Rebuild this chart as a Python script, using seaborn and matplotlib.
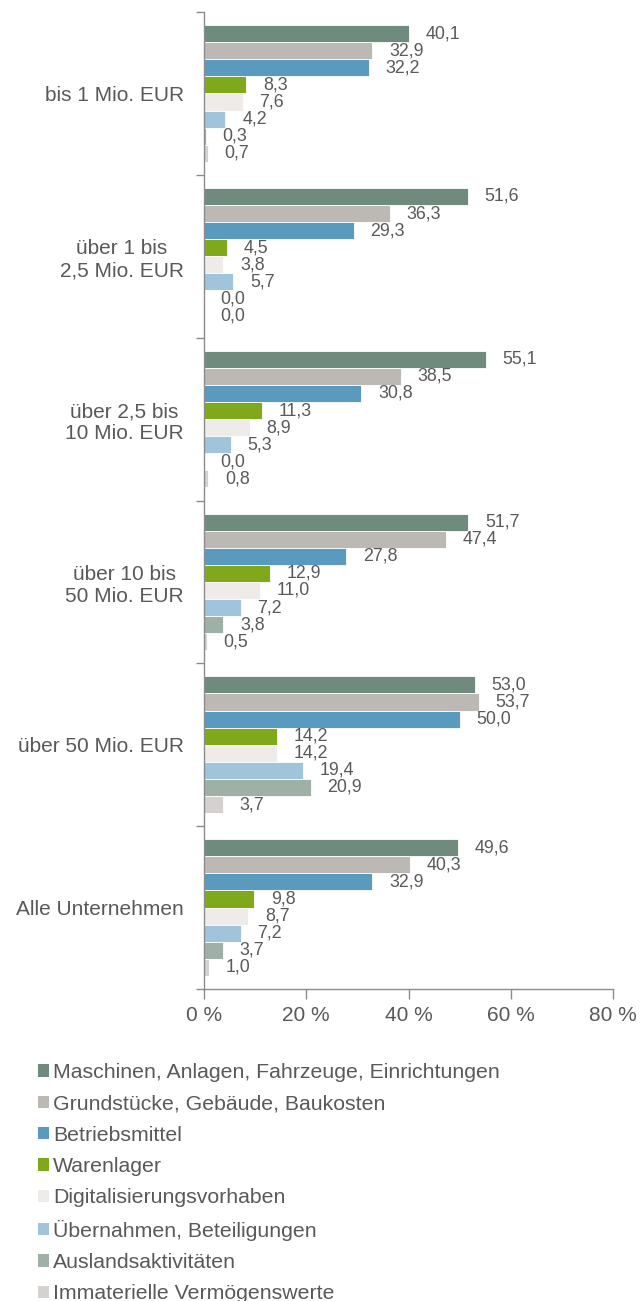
import matplotlib
matplotlib.use("Agg")
import matplotlib.pyplot as plt
import seaborn as sns
import pandas as pd
from matplotlib.patches import Patch

categories = ["bis 1 Mio. EUR", "über 1 bis\n2,5 Mio. EUR", "über 2,5 bis\n10 Mio. EUR",
              "über 10 bis\n50 Mio. EUR", "über 50 Mio. EUR", "Alle Unternehmen"]
series = ["Maschinen, Anlagen, Fahrzeuge, Einrichtungen", "Grundstücke, Gebäude, Baukosten",
          "Betriebsmittel", "Warenlager", "Digitalisierungsvorhaben",
          "Übernahmen, Beteiligungen", "Auslandsaktivitäten", "Immaterielle Vermögenswerte"]
maschinen = [40.1, 51.6, 55.1, 51.7, 53.0, 49.6]
grundstuecke = [32.9, 36.3, 38.5, 47.4, 53.7, 40.3]
betriebsmittel = [32.2, 29.3, 30.8, 27.8, 50.0, 32.9]
warenlager = [8.3, 4.5, 11.3, 12.9, 14.2, 9.8]
digitalisierung = [7.6, 3.8, 8.9, 11.0, 14.2, 8.7]
uebernahmen = [4.2, 5.7, 5.3, 7.2, 19.4, 7.2]
ausland = [0.3, 0.0, 0.0, 3.8, 20.9, 3.7]
immateriell = [0.7, 0.0, 0.8, 0.5, 3.7, 1.0]
xticks = [0, 20, 40, 60, 80]
xticklabels = ["0 %", "20 %", "40 %", "60 %", "80 %"]

colors = ["#6e8b7d", "#bcb8b4", "#5a9abf", "#7fa81a", "#efebe8", "#a0c4da", "#9fb0a7", "#d4d1ce"]

values = [maschinen, grundstuecke, betriebsmittel, warenlager, digitalisierung,
          uebernahmen, ausland, immateriell]
rows = []
for s, vals in zip(series, values):
    for c, v in zip(categories, vals):
        rows.append({"Kategorie": c, "Serie": s, "Wert": v})
df = pd.DataFrame(rows)

sns.set_theme(style="white")
plt.rcParams["font.family"] = ["Liberation Sans", "DejaVu Sans"]
text_color = "#595959"
axis_color = "#8c8c8c"

fig = plt.figure(figsize=(6.4, 13.01), dpi=100)
ax = fig.add_axes([204 / 640, 1 - 989 / 1301, (613 - 204) / 640, (989 - 12) / 1301])

sns.barplot(data=df, y="Kategorie", x="Wert", hue="Serie", order=categories, hue_order=series,
            palette=dict(zip(series, colors)), orient="h", width=0.84, dodge=True,
            saturation=1, edgecolor="white", linewidth=0.6, legend=False, ax=ax, errorbar=None)

for cont, vals in zip(ax.containers, values):
    ax.bar_label(cont, labels=[f"{v:.1f}".replace(".", ",") for v in vals], padding=12,
                 fontsize=12.8, color=text_color)

ax.set_xlim(0, 80)
ax.set_ylim(len(categories) - 0.5, -0.5)
ax.set_xticks(xticks)
ax.set_xticklabels(xticklabels, fontsize=15, color=text_color)
ax.set_yticks(range(len(categories)))
ax.set_yticklabels(categories, fontsize=15, color=text_color, multialignment="center")
ax.set_yticks([i - 0.5 for i in range(len(categories) + 1)], minor=True)
ax.tick_params(axis="y", which="major", length=0, pad=14.4)
ax.tick_params(axis="y", which="minor", length=6, width=1, color=axis_color, left=True)
ax.tick_params(axis="x", which="major", length=7, width=1, color=axis_color, bottom=True,
               direction="out", pad=5)
ax.set_xlabel("")
ax.set_ylabel("")
for side in ["top", "right"]:
    ax.spines[side].set_visible(False)
for side in ["left", "bottom"]:
    ax.spines[side].set_color(axis_color)
    ax.spines[side].set_linewidth(1)
ax.grid(False)

handles = [Patch(facecolor=c, edgecolor="none", label=s) for c, s in zip(colors, series)]
fig.legend(handles=handles, loc="upper left", bbox_to_anchor=(38 / 640, 1 - 1063 / 1301),
           frameon=False, fontsize=15.3, labelcolor=text_color, handlelength=0.52,
           handleheight=0.52, handletextpad=0.2, labelspacing=0.58, borderpad=0,
           borderaxespad=0)

fig.savefig("out.png", dpi=100)
